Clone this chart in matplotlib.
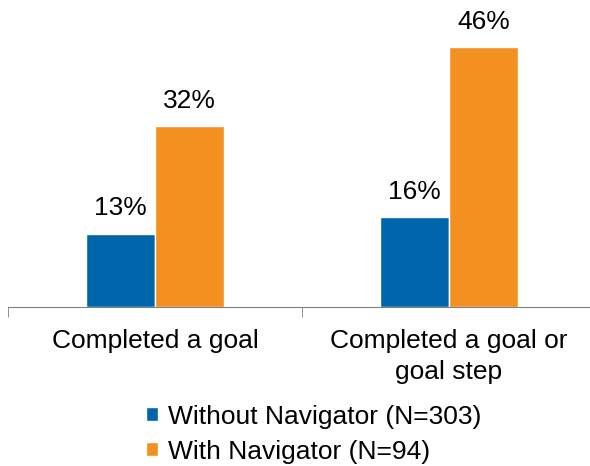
import matplotlib.pyplot as plt
import numpy as np

plt.rcParams['font.family'] = ['Liberation Sans', 'DejaVu Sans']

categories = ['Completed a goal', 'Completed a goal or\ngoal step']
without_nav = [13, 16]
with_nav = [32, 46]
series_names = ['Without Navigator (N=303)', 'With Navigator (N=94)']
colors = ['#0066AC', '#F39020']

fig = plt.figure(figsize=(5.9, 4.66), dpi=100)
ax = fig.add_axes([8 / 590, 1 - 307 / 466, 588 / 590, 307 / 466])

x = np.arange(len(categories))
w = 0.235
b1 = ax.bar(x - 0.118, without_nav, w, color=colors[0], edgecolor='white', linewidth=1,
            label=series_names[0])
b2 = ax.bar(x + 0.118, with_nav, w, color=colors[1], edgecolor='white', linewidth=1,
            label=series_names[1])

for bars in (b1, b2):
    for r in bars:
        ax.text(r.get_x() + r.get_width() / 2, r.get_height() + 2.3, f'{r.get_height():g}%',
                ha='center', va='bottom', fontsize=19)

ax.set_xlim(-0.5, 1.5)
ax.set_ylim(0, 54.3)
ax.set_yticks([])
for s in ['top', 'right', 'left']:
    ax.spines[s].set_visible(False)
ax.spines['bottom'].set_color('#808080')
ax.set_xticks(x)
ax.set_xticklabels(categories, fontsize=19, linespacing=1.35)
ax.tick_params(axis='x', which='major', length=0, pad=16)
ax.set_xticks([-0.5, 0.5, 1.5], minor=True)
ax.tick_params(axis='x', which='minor', length=7, color='#808080')

fig.legend(loc='lower left', bbox_to_anchor=(146 / 590, 0.005), frameon=False, fontsize=19,
           handlelength=0.45, handleheight=0.45, handletextpad=0.4, labelspacing=0.42,
           borderaxespad=0, borderpad=0)

fig.savefig('out.png', dpi=100)
